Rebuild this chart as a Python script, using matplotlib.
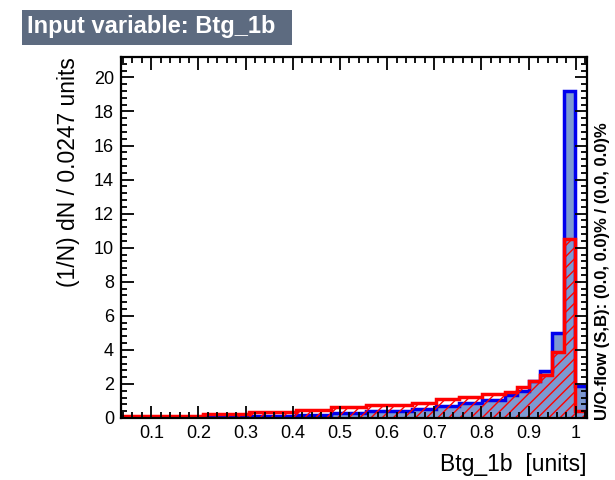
import numpy as np
import matplotlib
matplotlib.use("Agg")
import matplotlib.pyplot as plt
from matplotlib.patches import Rectangle
from matplotlib.ticker import MultipleLocator

plt.rcParams["font.family"] = ["Liberation Sans", "DejaVu Sans"]
plt.rcParams["hatch.linewidth"] = 1.0

# 40 bins of width 0.0247 over the Btg_1b range
x_min = 0.0357
bin_width = 0.0247
n_bins = 40
edges = x_min + bin_width * np.arange(n_bins + 1)

# signal (blue) and background (red), normalised per bin
signal = [0.05, 0.05, 0.05, 0.05, 0.05, 0.05, 0.05,
          0.1, 0.1, 0.1, 0.1, 0.1, 0.1, 0.1, 0.1,
          0.2, 0.2, 0.2, 0.3, 0.3, 0.3,
          0.4, 0.4, 0.4, 0.4, 0.55, 0.55, 0.7, 0.7,
          0.88, 0.88, 1.05, 1.05, 1.35, 1.6, 2.2, 2.75, 5.0, 19.2, 1.85]
background = [0.12, 0.12, 0.12, 0.12, 0.12, 0.12, 0.12,
              0.25, 0.25, 0.25, 0.25, 0.35, 0.35, 0.35, 0.35,
              0.45, 0.45, 0.45, 0.62, 0.62, 0.62,
              0.75, 0.75, 0.75, 0.75, 0.9, 0.9, 1.1, 1.1,
              1.25, 1.25, 1.4, 1.4, 1.55, 1.8, 2.2, 2.5, 3.9, 10.5, 0.4]

fig = plt.figure(figsize=(6.15, 4.8), dpi=100)
ax = fig.add_axes([121 / 615, 1 - 418 / 480, 466 / 615, 361 / 480])

ax.stairs(signal, edges, fill=True, facecolor="#7d99d1", edgecolor="none")
ax.stairs(signal, edges, color="#0000ee", linewidth=2.5)
ax.stairs(background, edges, fill=True, facecolor="none", edgecolor="#ff0000",
          linewidth=0, hatch="///")
ax.stairs(background, edges, color="#ff0000", linewidth=2.5)

ax.set_xlim(edges[0], edges[-1])
ax.set_ylim(0, 21.2)

ax.xaxis.set_minor_locator(MultipleLocator(0.02))
ax.yaxis.set_major_locator(MultipleLocator(2))
ax.yaxis.set_minor_locator(MultipleLocator(0.4))
ax.set_xticks(np.arange(0.1, 1.01, 0.1))
ax.set_xticklabels(["0.1", "0.2", "0.3", "0.4", "0.5", "0.6", "0.7", "0.8", "0.9", "1"])
ax.tick_params(which="both", direction="in", top=True, right=True,
               labelsize=13, width=1.3)
ax.tick_params(which="major", length=9, pad=5)
ax.tick_params(which="minor", length=4.5)
for s in ax.spines.values():
    s.set_linewidth(1.6)

ax.set_ylabel("(1/N) dN / 0.0247 units", fontsize=16.5, loc="top", labelpad=10)
ax.set_xlabel("Btg_1b  [units]", fontsize=16.5, loc="right", labelpad=8)

# right-hand over/underflow note
fig.text(603 / 615, 1 - 420 / 480, "U/O-flow (S,B): (0.0, 0.0)% / (0.0, 0.0)%",
         rotation=90, rotation_mode="anchor", ha="left", va="center",
         fontsize=12, fontweight="bold")

# title box
fig.patches.append(Rectangle((22 / 615, 1 - 45 / 480), 270 / 615, 35 / 480,
                             transform=fig.transFigure, facecolor="#5d6b80",
                             edgecolor="none"))
fig.text(27 / 615, 1 - 27 / 480, "Input variable: Btg_1b", color="white",
         fontsize=17, fontweight="bold", ha="left", va="center")

fig.savefig("out.png", dpi=100)
